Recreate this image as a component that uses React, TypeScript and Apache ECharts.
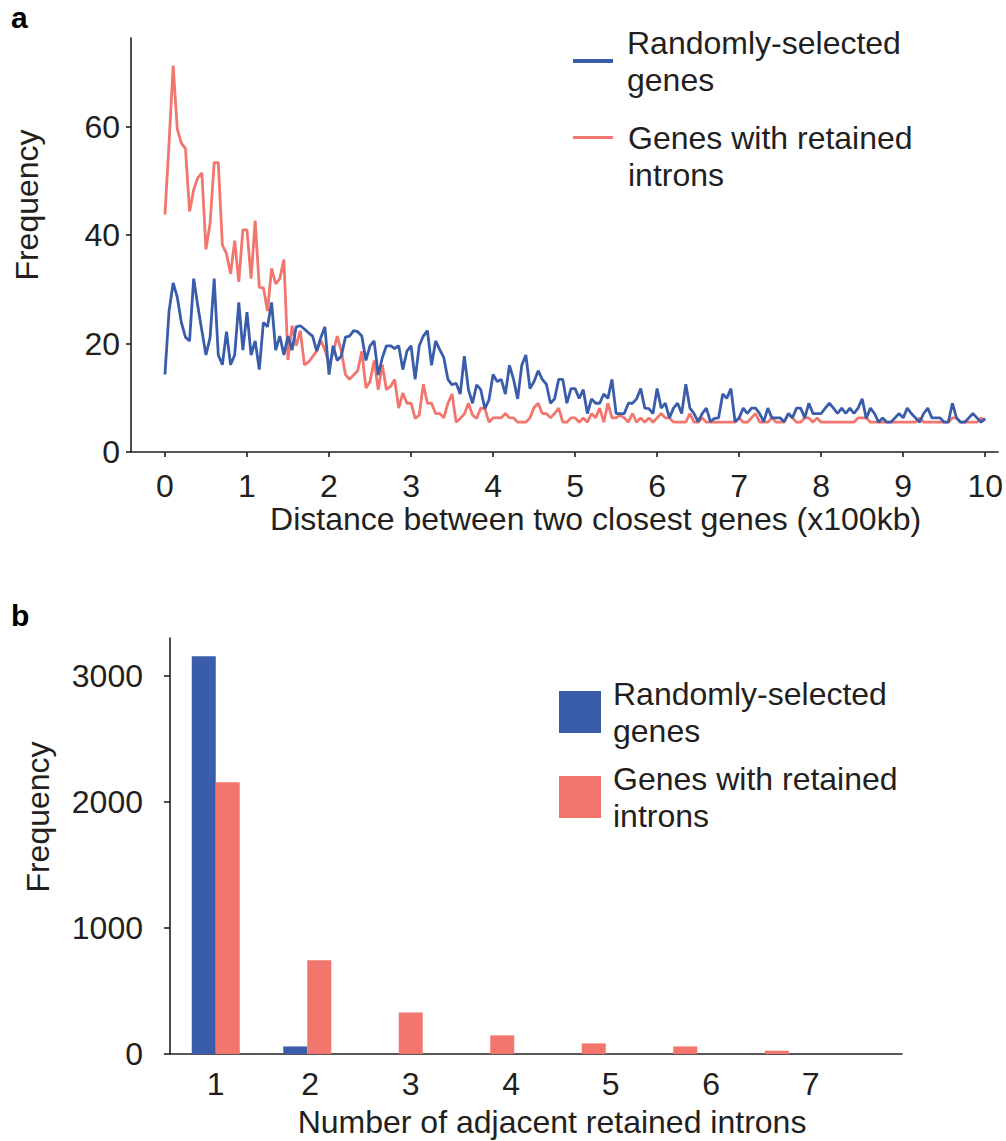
import React, { useEffect, useRef } from "react";
import * as echarts from "echarts";

// ---------- Panel a: distance between two closest genes ----------
const BIN_STEP = 0.05; // x100kb per bin
const nameRandom = "Randomly-selected\ngenes";
const nameRetained = "Genes with retained\nintrons";

const randomGenes = [
  14.3, 26, 31.2, 28.6, 23.9, 21.2, 20.5, 32, 27, 22.4,
  17.9, 21.1, 32, 17.9, 16.1, 22.2, 16.1, 17.9, 27.6, 18.8,
  25.8, 17.9, 20.5, 15.2, 23.9, 23.1, 27.6, 18.8, 21.4, 17.9,
  21.4, 18.8, 23.1, 23.3, 22.7, 22, 21.4, 18.6, 21.1, 23.1,
  14.3, 19.6, 16.9, 17.7, 21.2, 21.4, 22.4, 22.2, 21.4, 16.9,
  19.6, 20.5, 14.2, 17.4, 19.6, 19.6, 19.1, 19.6, 15.2, 18.6,
  19.6, 13.4, 19.6, 21.4, 22.4, 16, 20.5, 18.9, 17.4, 13.4,
  12.4, 12.7, 10.7, 17.7, 11.5, 9, 12.4, 11.5, 8.0, 9.6,
  14.3, 13, 13.4, 10.7, 16, 13.4, 9.8, 16, 17.9, 11.7,
  13, 15, 13.4, 12.5, 9, 9.8, 13.4, 13.4, 9, 11.7,
  11.7, 9.9, 11.5, 7.1, 9.8, 9, 9, 10.7, 9.9, 13.4,
  7.1, 7.1, 7.1, 9, 9, 9.8, 11.7, 8.1, 8, 7.1,
  11.7, 8.1, 9, 6.3, 8.1, 9, 7.1, 12.5, 8.1, 7.1,
  5.6, 7.1, 8.1, 5.6, 6.2, 6.3, 10.7, 9.9, 11.7, 5.6,
  6.3, 8.1, 7.1, 8.1, 8.1, 7.1, 5.6, 8.1, 6.3, 6.3,
  6.3, 5.6, 7.1, 6.3, 8.1, 8.1, 6.3, 9, 7.1, 7.1,
  7.1, 8.1, 9, 8.1, 7.1, 8.1, 7.1, 8.1, 7.1, 8.1,
  9.8, 6.2, 8.1, 7.1, 5.5, 6.3, 5.5, 5.5, 6.3, 7.1,
  6.3, 8.1, 7.1, 6.3, 5.5, 7.1, 8.1, 6.3, 6.3, 6.3,
  5.5, 5.5, 9, 6.3, 5.5, 5.5, 6.3, 7.1, 6.3, 5.5,
  6.2,
];

const retainedGenes = [
  43.8, 57, 71.3, 59.6, 57, 56, 44.4, 48.4, 50.6, 51.5,
  37.4, 42.2, 53.4, 53.4, 38.2, 36.6, 32.9, 39, 31.4, 41,
  41, 32, 42.7, 30.4, 30.3, 26, 33.9, 31, 32, 35.5,
  17, 23.3, 19.6, 22.4, 16.1, 16.6, 17.6, 18.6, 20.6, 18.9,
  16.1, 18.3, 21.4, 18.6, 14.3, 13.4, 14.2, 15, 18.6, 11.8,
  13, 16.9, 11.5, 16.1, 11.5, 12.1, 13.4, 8.1, 10.9, 9,
  9, 6.2, 6.8, 12.5, 9, 9, 7.1, 7.1, 6.3, 9,
  10.7, 5.5, 6.2, 7, 9, 6.8, 6.2, 8.1, 8, 5.5,
  6.3, 6.3, 6.3, 7.1, 6.3, 6.3, 5.5, 5.5, 5.5, 6.3,
  8.2, 9, 7.1, 7.1, 6.3, 7.1, 8.1, 5.5, 5.5, 6.3,
  6.3, 5.5, 6.3, 5.5, 7.1, 6.3, 8.1, 5.5, 9, 6.3,
  6.3, 6.8, 6.3, 5.5, 7.1, 5.5, 6.3, 5.5, 6.3, 5.5,
  6.3, 7.1, 6.3, 6.3, 5.5, 5.5, 5.5, 5.5, 7.1, 5.5,
  5.5, 6.3, 5.5, 5.5, 5.5, 5.5, 5.5, 5.5, 5.5, 5.5,
  6.3, 5.5, 5.5, 6.3, 7.1, 5.5, 5.5, 5.5, 6.3, 5.5,
  5.5, 5.5, 7.1, 6.3, 5.5, 5.5, 6.3, 6.3, 5.5, 6.3,
  5.5, 5.5, 5.5, 5.5, 5.5, 5.5, 5.5, 5.5, 5.5, 6.3,
  6.3, 6.3, 5.5, 5.5, 5.5, 5.5, 5.5, 5.5, 5.5, 5.5,
  5.5, 5.5, 5.5, 5.5, 6.3, 5.5, 5.5, 5.5, 5.5, 5.5,
  5.5, 5.5, 6.3, 6.3, 5.5, 5.5, 5.5, 5.5, 5.5, 6.3,
  5.8,
];

const distanceTicks = [0, 1, 2, 3, 4, 5, 6, 7, 8, 9, 10];
const freqTicksA = [0, 20, 40, 60];

// ---------- Panel b: number of adjacent retained introns ----------
const intronCategories = ["1", "2", "3", "4", "5", "6", "7", ""];
const randomCounts = [3155, 60, 0, 0, 0, 0, 0, null];
const retainedCounts = [2155, 743, 330, 148, 84, 60, 26, null];
const freqTicksB = [0, 1000, 2000, 3000];

// ---------- styles ----------
const FONT = "'Liberation Sans', Arial, Helvetica, sans-serif";
const INK = "#231f20";
const BLUE = "#3a5dab";
const RED = "#f2766e";
const axisLine = { show: true, onZero: false, lineStyle: { color: INK, width: 1.6 } };
const tickLine = { color: INK, width: 1.6 };
const labelShiftWidths = [0, 6, 24, 42, 58, 76, 92, 0];

const legendText = { fontSize: 32, lineHeight: 37, color: INK, fontFamily: FONT };

function buildOption() {
  const rich: Record<string, any> = {
    n: { fontSize: 32, color: INK, fontFamily: FONT },
  };
  labelShiftWidths.forEach((w, i) => {
    rich["s" + i] = { width: w, fontSize: 32 };
  });

  return {
    animation: false,
    backgroundColor: "#ffffff",
    textStyle: { fontFamily: FONT },
    title: [
      { text: "a", left: 11, top: 2, padding: 0, textStyle: { fontSize: 30, fontWeight: "bold", color: "#000", fontFamily: FONT } },
      { text: "b", left: 11, top: 600, padding: 0, textStyle: { fontSize: 30, fontWeight: "bold", color: "#000", fontFamily: FONT } },
    ],
    grid: [
      { left: 131, top: 38, width: 869, height: 414 },
      { left: 170, top: 638, width: 732, height: 416 },
    ],
    legend: [
      {
        data: [nameRandom], left: 573, top: 24, padding: 0, icon: "rect", itemWidth: 40, itemHeight: 4,
        selectedMode: false, textStyle: { ...legendText, padding: [0, 0, 0, 9] },
      },
      {
        data: [nameRetained], left: 573, top: 82, padding: 0, icon: "rect", itemWidth: 40, itemHeight: 3,
        selectedMode: false, formatter: (n: string) => "\n" + n, textStyle: { ...legendText, padding: [0, 0, 0, 10] },
      },
      {
        data: [nameRandom], left: 559, top: 675, padding: 0, icon: "rect", itemWidth: 42, itemHeight: 42,
        selectedMode: false, textStyle: { ...legendText, padding: [0, 0, 0, 7] },
      },
      {
        data: [nameRetained], left: 559, top: 760, padding: 0, icon: "rect", itemWidth: 42, itemHeight: 42,
        selectedMode: false, textStyle: { ...legendText, padding: [0, 0, 0, 7] },
      },
    ],
    xAxis: [
      {
        type: "value", gridIndex: 0, min: -0.414, max: 10.158,
        axisLine, splitLine: { show: false },
        axisTick: { show: true, length: 5, customValues: distanceTicks, lineStyle: tickLine },
        axisLabel: { customValues: distanceTicks, fontSize: 32, color: INK, margin: 18, fontFamily: FONT },
        name: "Distance between two closest genes (x100kb)", nameLocation: "middle", nameGap: 50,
        nameTextStyle: { fontSize: 32, color: INK, fontFamily: FONT, padding: [0, 0, 0, 62] },
      },
      {
        type: "category", gridIndex: 1, data: intronCategories, boundaryGap: true,
        axisLine, axisTick: { show: false },
        axisLabel: {
          interval: 0, margin: 14, fontSize: 32, color: INK, fontFamily: FONT, rich,
          formatter: (v: string, i: number) => (v === "" ? "" : `{s${i}| }{n|${v}}`),
        },
        name: "Number of adjacent retained introns", nameLocation: "middle", nameGap: 52,
        nameTextStyle: { fontSize: 32, color: INK, fontFamily: FONT, padding: [0, 0, 0, 32] },
      },
    ],
    yAxis: [
      {
        type: "value", gridIndex: 0, min: 0, max: 76.4,
        axisLine, splitLine: { show: false },
        axisTick: { show: true, length: 5, customValues: freqTicksA, lineStyle: tickLine },
        axisLabel: { customValues: freqTicksA, fontSize: 32, color: INK, margin: 11, fontFamily: FONT, formatter: (v: number) => String(v) },
        name: "Frequency", nameLocation: "middle", nameGap: 88,
        nameTextStyle: { fontSize: 32, color: INK, fontFamily: FONT, padding: [0, 0, 0, 80] },
      },
      {
        type: "value", gridIndex: 1, min: 0, max: 3300,
        axisLine, splitLine: { show: false },
        axisTick: { show: true, length: 6, customValues: freqTicksB, lineStyle: tickLine },
        axisLabel: { customValues: freqTicksB, fontSize: 32, color: INK, margin: 27, fontFamily: FONT, formatter: (v: number) => String(v) },
        name: "Frequency", nameLocation: "middle", nameGap: 116,
        nameTextStyle: { fontSize: 32, color: INK, fontFamily: FONT, padding: [0, 0, 0, 58] },
      },
    ],
    series: [
      {
        name: nameRetained, type: "line", xAxisIndex: 0, yAxisIndex: 0,
        showSymbol: false, symbol: "none", color: RED,
        lineStyle: { color: RED, width: 2.8 },
        data: retainedGenes.map((v, i) => [i * BIN_STEP, v]),
      },
      {
        name: nameRandom, type: "line", xAxisIndex: 0, yAxisIndex: 0,
        showSymbol: false, symbol: "none", color: BLUE,
        lineStyle: { color: BLUE, width: 2.8 },
        data: randomGenes.map((v, i) => [i * BIN_STEP, v]),
      },
      {
        name: nameRandom, type: "bar", xAxisIndex: 1, yAxisIndex: 1,
        barWidth: 24, barGap: "0%", color: BLUE, itemStyle: { color: BLUE },
        data: randomCounts,
      },
      {
        name: nameRetained, type: "bar", xAxisIndex: 1, yAxisIndex: 1,
        barWidth: 24, barGap: "0%", color: RED, itemStyle: { color: RED },
        data: retainedCounts,
      },
    ],
  };
}

export default function App() {
  const ref = useRef<HTMLDivElement>(null);
  useEffect(() => {
    if (!ref.current) return;
    const chart = echarts.init(ref.current, null, { renderer: "svg" });
    chart.setOption(buildOption() as any);
    return () => chart.dispose();
  }, []);
  return (
    <div
      ref={ref}
      style={{ position: "fixed", left: 0, top: 0, width: 1006, height: 1141, background: "#ffffff" }}
    />
  );
}
